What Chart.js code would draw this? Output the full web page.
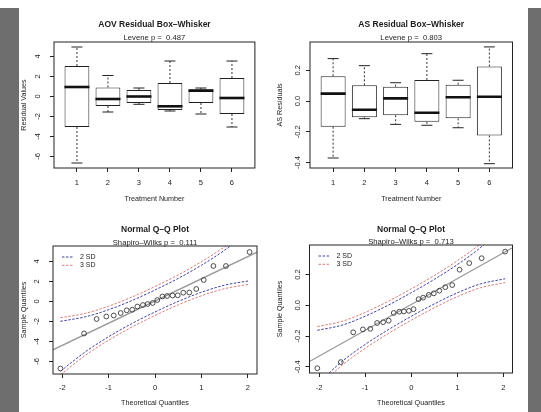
<!DOCTYPE html>
<html>
<head>
<meta charset="utf-8">
<script src="https://cdn.jsdelivr.net/npm/chart.js@4.4.1/dist/chart.umd.min.js"></script>
<style>
    html, body { margin: 0; padding: 0; background: #fff; }
    #page { position: relative; width: 541px; height: 412px; background: #fff; overflow: hidden; }
    .band { position: absolute; top: 8px; bottom: 0; background: #6e6e6e; }
    #bandLeft { left: 0; width: 19px; }
    #bandRight { left: 528px; width: 13px; }
    canvas { position: absolute; }
</style>
</head>
<body>
<div id="page">
    <div class="band" id="bandLeft"></div>
    <div class="band" id="bandRight"></div>
    <canvas id="aovBox" width="270" height="206" style="left:0;top:0"></canvas>
    <canvas id="asBox" width="271" height="206" style="left:270px;top:0"></canvas>
    <canvas id="aovQQ" width="270" height="206" style="left:0;top:206px"></canvas>
    <canvas id="asQQ" width="271" height="206" style="left:270px;top:206px"></canvas>
</div>
<script>
// Box-whisker summaries per treatment
const treatments = [1, 2, 3, 4, 5, 6];
const aovMin = [-6.65, -1.55, -0.78, -1.45, -1.75, -3.05];
const aovQ1 = [-3.05, -0.95, -0.65, -1.35, -0.65, -1.75];
const aovMed = [0.95, -0.25, 0.0, -0.98, 0.58, -0.15];
const aovQ3 = [3.05, 0.9, 0.65, 1.35, 0.72, 1.85];
const aovMax = [4.95, 2.1, 0.85, 3.55, 0.85, 3.55];

const asMin = [-0.371, -0.115, -0.152, -0.158, -0.174, -0.408];
const asQ1 = [-0.167, -0.106, -0.093, -0.135, -0.113, -0.224];
const asMed = [0.048, -0.057, 0.017, -0.076, 0.024, 0.028];
const asQ3 = [0.161, 0.102, 0.093, 0.137, 0.106, 0.224];
const asMax = [0.276, 0.23, 0.119, 0.308, 0.135, 0.352];

// Normal Q-Q points
const theoQuantiles = [-2.04, -1.53, -1.26, -1.05, -0.89, -0.74, -0.61, -0.49, -0.38, -0.26, -0.16, -0.05,
    0.05, 0.16, 0.26, 0.38, 0.49, 0.61, 0.74, 0.89, 1.05, 1.26, 1.53, 2.04];
const aovSample = [-6.7, -3.2, -1.75, -1.5, -1.4, -1.15, -0.88, -0.82, -0.5, -0.35, -0.25, -0.15,
    0.15, 0.5, 0.55, 0.6, 0.62, 0.88, 0.9, 1.25, 2.15, 3.55, 3.55, 4.95];
const asSample = [-0.41, -0.37, -0.176, -0.157, -0.153, -0.115, -0.11, -0.1, -0.05, -0.042, -0.04, -0.036,
    -0.025, 0.04, 0.05, 0.068, 0.078, 0.095, 0.118, 0.132, 0.232, 0.275, 0.307, 0.35];

// Reference lines (end points)
const aovLineX = [-2.2, 2.2];
const aovLineY = [-4.83, 4.93];
const asLineX = [-2.21, 2.2];
const asLineY = [-0.366, 0.375];

// Confidence bands
const bandX = [-2.04, -1.5, -1.0, -0.5, 0, 0.5, 1.0, 1.5, 2.04];
const aovUpper2 = [-1.98, -1.53, -0.82, 0.09, 1.15, 2.31, 3.62, 5.13, 7.08];
const aovUpper3 = [-1.63, -1.18, -0.47, 0.44, 1.5, 2.66, 3.97, 5.48, 7.43];
const aovLower2 = [-6.98, -5.03, -3.52, -2.21, -1.05, 0.01, 0.92, 1.63, 2.08];
const aovLower3 = [-7.33, -5.38, -3.87, -2.56, -1.4, -0.34, 0.57, 1.28, 1.73];
const asUpper2 = [-0.163, -0.129, -0.071, 0.001, 0.082, 0.169, 0.265, 0.375, 0.523];
const asUpper3 = [-0.138, -0.104, -0.046, 0.026, 0.107, 0.194, 0.29, 0.4, 0.548];
const asLower2 = [-0.513, -0.365, -0.255, -0.159, -0.072, 0.009, 0.081, 0.139, 0.173];
const asLower3 = [-0.538, -0.39, -0.28, -0.184, -0.097, -0.016, 0.056, 0.114, 0.148];

// Axis ticks
const boxXTicks = [1, 2, 3, 4, 5, 6];
const aovYTicks = [-6, -4, -2, 0, 2, 4];
const asYTicks = [-0.4, -0.2, 0, 0.2];
const qqXTicks = [-2, -1, 0, 1, 2];

const FONT = '"Liberation Sans", Arial, sans-serif';
const INK = '#1c1c1c';
const BLUE = '#4141a3';
const RED = '#d97c7c';

Chart.defaults.font.family = FONT;
Chart.defaults.color = INK;

// R style box around the plot region
const plotFrame = {
    id: 'plotFrame',
    afterDatasetsDraw: function(chart) {
        const a = chart.chartArea;
        const ctx = chart.ctx;
        ctx.save();
        ctx.strokeStyle = '#222';
        ctx.lineWidth = 1;
        ctx.strokeRect(a.left, a.top, a.right - a.left, a.bottom - a.top);
        ctx.restore();
    }
};

// Small legend in the upper left corner of the Q-Q plots
const qqLegend = {
    id: 'qqLegend',
    afterDatasetsDraw: function(chart, args, opts) {
        if (!opts.items) return;
        const a = chart.chartArea;
        const ctx = chart.ctx;
        ctx.save();
        ctx.font = '7px ' + FONT;
        ctx.textBaseline = 'middle';
        opts.items.forEach(function(item, i) {
            const y = a.top + 11 + i * 8.3;
            ctx.strokeStyle = item.color;
            ctx.lineWidth = 1;
            ctx.setLineDash([2.5, 1.5]);
            ctx.beginPath();
            ctx.moveTo(a.left + 9, y);
            ctx.lineTo(a.left + 21, y);
            ctx.stroke();
            ctx.setLineDash([]);
            ctx.fillStyle = INK;
            ctx.fillText(item.text, a.left + 27, y);
        });
        ctx.restore();
    }
};

function points(xs, ys) {
    return xs.map(function(x, i) { return { x: x, y: ys[i] }; });
}

function boxDatasets(mins, q1s, meds, q3s, maxs) {
    const whiskers = [];
    const caps = [];
    treatments.forEach(function(t, i) {
        whiskers.push({ x: t, y: q3s[i] }, { x: t, y: maxs[i] }, { x: t, y: null });
        whiskers.push({ x: t, y: q1s[i] }, { x: t, y: mins[i] }, { x: t, y: null });
        caps.push({ x: t, y: maxs[i] }, { x: t, y: mins[i] });
    });
    return [
        {
            type: 'scatter', data: points(treatments, meds),
            pointStyle: 'line', pointRadius: 12.5, pointBorderWidth: 2.6, pointBorderColor: '#111'
        },
        {
            type: 'scatter', data: caps,
            pointStyle: 'line', pointRadius: 5.5, pointBorderWidth: 1, pointBorderColor: '#222'
        },
        {
            type: 'line', data: whiskers, borderColor: '#333', borderWidth: 1,
            borderDash: [2, 2], pointRadius: 0, spanGaps: false
        },
        {
            type: 'bar', data: treatments.map(function(t, i) { return { x: t, y: [q1s[i], q3s[i]] }; }),
            backgroundColor: '#fff', borderColor: '#222', borderWidth: 1, borderSkipped: false,
            categoryPercentage: 0.8, barPercentage: 1
        }
    ];
}

function qqDatasets(sample, lineX, lineY, up2, up3, lo2, lo3) {
    const band = function(ys, color) {
        return {
            type: 'line', data: points(bandX, ys), borderColor: color, borderWidth: 1,
            borderDash: [2.5, 1.5], pointRadius: 0, cubicInterpolationMode: 'monotone'
        };
    };
    return [
        {
            type: 'scatter', data: points(theoQuantiles, sample), pointStyle: 'circle',
            pointRadius: 2.4, pointBorderWidth: 0.9, pointBorderColor: '#3a3a3a',
            pointBackgroundColor: 'rgba(0,0,0,0)'
        },
        { type: 'line', data: points(lineX, lineY), borderColor: '#9a9a9a', borderWidth: 1.3, pointRadius: 0 },
        band(up2, BLUE), band(lo2, BLUE), band(up3, RED), band(lo3, RED)
    ];
}

function axisTicks(values) {
    return function(scale) {
        scale.ticks = values.map(function(v) { return { value: v }; });
    };
}

function buildChart(id, p, datasets, extraPlugins) {
    const canvas = document.getElementById(id);
    const W = canvas.width;
    const H = canvas.height;
    const tickFont = { size: 7.5 };
    const gridOpts = { offset: false, drawOnChartArea: false, drawTicks: true, tickLength: 4, tickColor: '#222', tickWidth: 1 };
    const titleHalf = 8.5 * 0.9 / 2;
    const subHalf = 7.7 * 0.9 / 2;

    return new Chart(canvas.getContext('2d'), {
        type: 'scatter',
        data: { datasets: datasets },
        options: {
            responsive: false,
            animation: false,
            events: [],
            layout: { padding: { left: 0, right: W - p.right, top: 0, bottom: 0 } },
            plugins: {
                legend: { display: false },
                tooltip: { enabled: false },
                title: {
                    display: true, text: p.title, fullSize: false, color: INK,
                    font: { size: 8.5, weight: 'bold', lineHeight: 0.9 },
                    padding: { top: p.titleY - titleHalf, bottom: 0 }
                },
                subtitle: {
                    display: true, text: p.subtitle, fullSize: false, color: INK,
                    font: { size: 7.7, lineHeight: 0.9 },
                    padding: {
                        top: p.subY - subHalf - (p.titleY + titleHalf),
                        bottom: Math.max(0, p.top - p.subY - subHalf)
                    }
                },
                qqLegend: { items: p.legend }
            },
            scales: {
                x: {
                    type: 'linear', min: p.xMin, max: p.xMax, offset: false,
                    afterBuildTicks: axisTicks(p.xTicks),
                    afterFit: function(scale) { scale.height = H - p.bottom; },
                    grid: gridOpts, border: { display: false },
                    ticks: {
                        autoSkip: false, maxRotation: 0, padding: p.xPad, font: tickFont,
                        callback: function(v) { return v.toFixed(0); }
                    },
                    title: {
                        display: true, text: p.xTitle, font: { size: 7.2 },
                        padding: { top: 0, bottom: p.xTitlePad }
                    }
                },
                y: {
                    type: 'linear', min: p.yMin, max: p.yMax, offset: false,
                    afterBuildTicks: axisTicks(p.yTicks),
                    afterFit: function(scale) { scale.width = p.left; },
                    grid: gridOpts, border: { display: false },
                    ticks: {
                        autoSkip: false, minRotation: 90, maxRotation: 90, crossAlign: 'center',
                        padding: p.yPad, font: tickFont,
                        callback: function(v) { return v.toFixed(p.yDigits); }
                    },
                    title: {
                        display: true, text: p.yTitle, font: { size: 7.2 },
                        padding: { top: p.yTitlePad, bottom: 0 }
                    }
                }
            }
        },
        plugins: [plotFrame].concat(extraPlugins || [])
    });
}

document.addEventListener('DOMContentLoaded', function() {
    const qqItems = [{ text: '2 SD', color: BLUE }, { text: '3 SD', color: RED }];

    buildChart('aovBox', {
        left: 54, right: 258, top: 42, bottom: 168, titleY: 25, subY: 38,
        title: 'AOV Residual Box\u2013Whisker', subtitle: 'Levene p =  0.487',
        xTitle: 'Treatment Number', yTitle: 'Residual Values',
        xMin: 0.26, xMax: 6.74, yMin: -7.15, yMax: 5.45, xTicks: boxXTicks, yTicks: aovYTicks, yDigits: 0,
        xPad: 6.5, yPad: 9, xTitlePad: 3, yTitlePad: 20
    }, boxDatasets(aovMin, aovQ1, aovMed, aovQ3, aovMax));

    buildChart('asBox', {
        left: 40, right: 242.5, top: 42, bottom: 168, titleY: 25, subY: 38,
        title: 'AS Residual Box\u2013Whisker', subtitle: 'Levene p =  0.803',
        xTitle: 'Treatment Number', yTitle: 'AS Residuals',
        xMin: 0.26, xMax: 6.74, yMin: -0.436, yMax: 0.384, xTicks: boxXTicks, yTicks: asYTicks, yDigits: 1,
        xPad: 6.5, yPad: 2, xTitlePad: 3, yTitlePad: 6
    }, boxDatasets(asMin, asQ1, asMed, asQ3, asMax));

    buildChart('aovQQ', {
        left: 53, right: 257, top: 40, bottom: 168, titleY: 24, subY: 36.5,
        title: 'Normal Q\u2013Q Plot', subtitle: 'Shapiro\u2013Wilks p =  0.111',
        xTitle: 'Theoretical Quantiles', yTitle: 'Sample Quantiles',
        xMin: -2.2, xMax: 2.2, yMin: -7.25, yMax: 5.55, xTicks: qqXTicks, yTicks: aovYTicks, yDigits: 0,
        xPad: 5.2, yPad: 9, xTitlePad: 5, yTitlePad: 20, legend: qqItems
    }, qqDatasets(aovSample, aovLineX, aovLineY, aovUpper2, aovUpper3, aovLower2, aovLower3), [qqLegend]);

    buildChart('asQQ', {
        left: 39.5, right: 242.5, top: 39, bottom: 167, titleY: 24, subY: 35.5,
        title: 'Normal Q\u2013Q Plot', subtitle: 'Shapiro\u2013Wilks p =  0.713',
        xTitle: 'Theoretical Quantiles', yTitle: 'Sample Quantiles',
        xMin: -2.21, xMax: 2.2, yMin: -0.441, yMax: 0.393, xTicks: qqXTicks, yTicks: asYTicks, yDigits: 1,
        xPad: 6.2, yPad: 1, xTitlePad: 5, yTitlePad: 6, legend: qqItems
    }, qqDatasets(asSample, asLineX, asLineY, asUpper2, asUpper3, asLower2, asLower3), [qqLegend]);
});
</script>
</body>
</html>
